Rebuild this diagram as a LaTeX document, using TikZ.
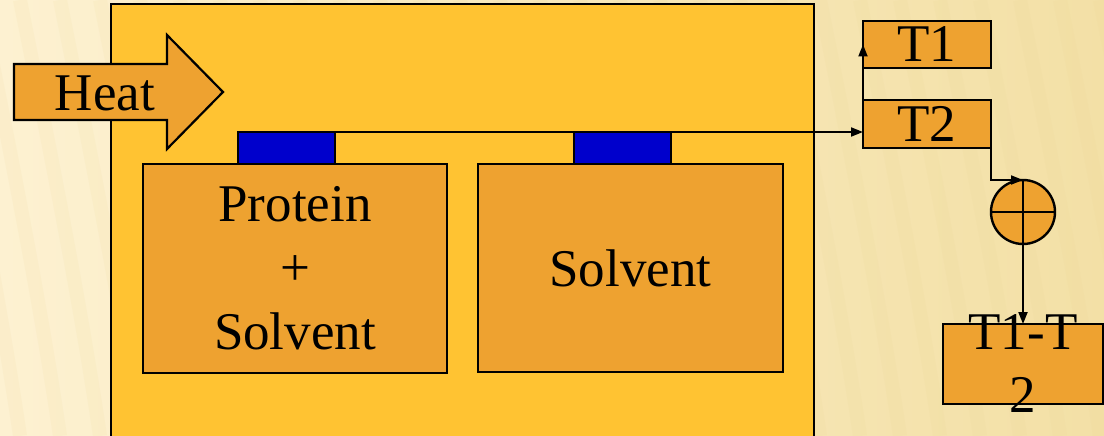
\documentclass[tikz,border=0pt]{standalone}
\usepackage{fontspec}
\setmainfont{Liberation Serif}
\usetikzlibrary{arrows.meta,calc}
\definecolor{bgleft}{HTML}{FDF1D1}
\definecolor{bgright}{HTML}{F3E0A6}
\definecolor{grain}{HTML}{E8CF8A}
\definecolor{bath}{HTML}{FFC332}
\definecolor{cell}{HTML}{EEA230}
\definecolor{sensor}{HTML}{0000CC}
\tikzset{
  box/.style={draw=black, fill=cell, line width=2.4pt, inner sep=0pt, outer sep=0pt},
  probe/.style={draw=black, fill=sensor, line width=2.4pt, inner sep=0pt, outer sep=0pt,
    minimum width=97pt, minimum height=32pt},
  lbl/.style={font=\fontsize{53}{64}\selectfont, text=black},
  wire/.style={line width=2pt, -{Triangle[length=12pt,width=9pt]}},
  plain/.style={line width=2pt},
  streak/.style={draw=grain, line width=14pt, opacity=0.09},
}
\begin{document}
\begin{tikzpicture}[x=1pt,y=-1pt]
\useasboundingbox (0,0) rectangle (1104,436);
% backdrop with faint wood-like streaks
\shade[left color=bgleft, right color=bgright] (0,0) rectangle (1104,436);
\begin{scope}
  \clip (0,0) rectangle (1104,436);
  \foreach \sx in {-60,-20,...,1140} {
    \draw[streak] (\sx,0) .. controls (\sx+30,150) and (\sx+60,300) .. (\sx+80,436);
  }
\end{scope}
% water bath
\draw[fill=bath, line width=2.8pt] (111,4) rectangle (814,446);
% heat input arrow
\draw[fill=cell, line width=2.2pt, line join=miter]
  (14,64) -- (167,64) -- (167,35) -- (223,92) -- (167,149) -- (167,120) -- (14,120) -- cycle;
\node[lbl, inner sep=0pt] (heat) at (105,93) {Heat};
% sample and reference cells
\node[box, lbl, align=center, minimum width=304pt, minimum height=209pt] (cellA) at (295,268.5)
  {Protein\\+\\Solvent};
\node[box, lbl, minimum width=305pt, minimum height=208pt] (cellB) at (630.5,268) {Solvent};
% temperature probes
\node[probe] (s1) at (286.5,148) {};
\node[probe] (s2) at (622.5,148) {};
% readouts
\node[box, lbl, minimum width=128pt, minimum height=47pt] (t1) at (927,44.5) {T1};
\node[box, lbl, minimum width=128pt, minimum height=48pt] (t2) at (927,124) {T2};
\node[box, circle, minimum size=64pt] (sum) at (1023,212) {};
\draw[plain] (sum.north) -- (sum.south) (sum.west) -- (sum.east);
\node[box, minimum width=160pt, minimum height=80pt] (diff) at (1023,364) {};
\node[lbl, align=center, font=\fontsize{53}{63}\selectfont, inner sep=0pt] (difftext) at (diff.center) {T1-T\\2};
% signal lines
\coordinate (tap) at (s1.north west -| t2.west);
\draw[wire] (s1.north west) -- (tap);
\draw[wire] (tap) -- (t1.west);
\draw[wire] (t2.south east) |- (sum.north);
\draw[wire] (sum.south) -- (diff.north);
\end{tikzpicture}
\end{document}
